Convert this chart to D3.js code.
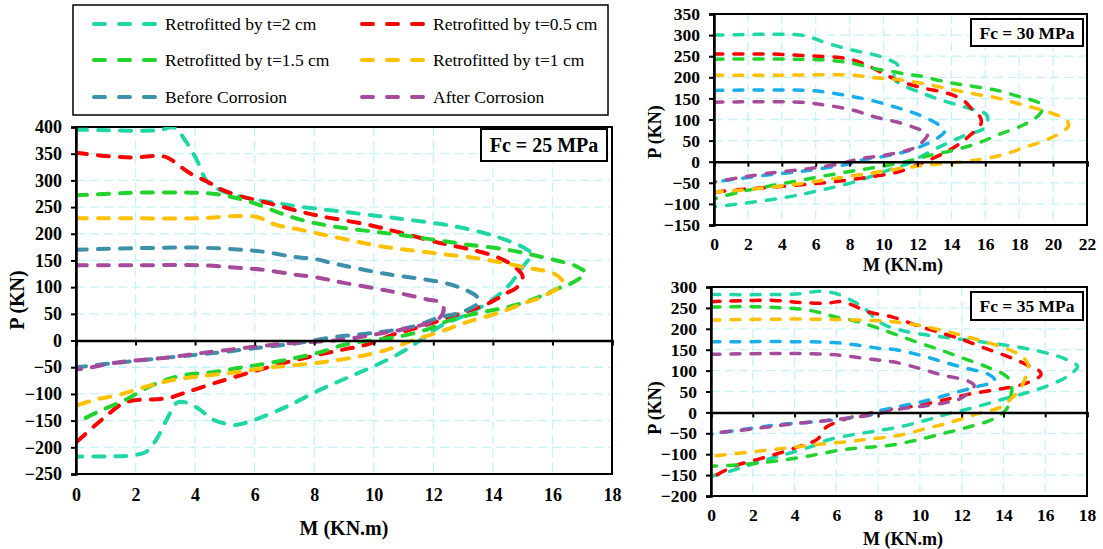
<!DOCTYPE html>
<html>
<head>
<meta charset="utf-8">
<script src="https://cdn.jsdelivr.net/npm/d3@7/dist/d3.min.js"></script>
<style>
  body { margin: 0; background: #fff; }
  svg { display: block; font-family: "Liberation Serif", "Times New Roman", serif; }
  .tick text { font-weight: bold; fill: #000; }
  .axis-title { font-weight: bold; }
</style>
</head>
<body>
<svg id="chart" width="1103" height="549"></svg>
<script>
(function() {

	// DATA  (M in KN.m, P in KN)
	var seriesNames = ['Retrofitted by t=2 cm', 'Retrofitted by t=0.5 cm', 'Retrofitted by t=1.5 cm',
		'Retrofitted by t=1 cm', 'Before Corrosion', 'After Corrosion'];

	// Fc = 25 MPa
	var fc25_t2 = [[0,395],[1,394],[2,393],[2.8,394],[3.3,399],[3.7,372],[4.05,339],[4.4,298],[4.8,283],[5.3,273],[6,264],[6.7,258],[7.5,251],[9,241],[10.2,233],[11.2,226],[12.7,214],[14.1,195],[15.1,172],[15.3,162],[15.0,138],[14.5,101],[13.7,66],[13,46],[12.2,26],[11.6,2],[10.9,-23],[10,-48],[9.1,-70],[8.2,-92],[7.1,-123],[6.3,-142],[5.7,-154],[5.3,-158],[4.6,-148],[4.15,-129],[3.7,-116],[3.4,-116],[3.05,-148],[2.7,-185],[2.37,-208],[1.9,-215],[1,-217],[0,-217]];
	var fc25_t05 = [[0,352],[1.15,345],[2,343],[2.8,346],[3.1,342],[3.5,326],[3.9,311],[4.4,298],[4.8,285],[5.3,274],[6.2,261],[6.7,254],[7.5,242],[8.2,233],[9.8,217],[10.9,202],[12.2,183],[13.3,170],[14.2,155],[14.7,139],[15,120],[14.8,99],[14.5,90],[13.9,71],[13.1,54],[12.3,39],[11.45,24],[10.65,11],[9.8,-7],[8.97,-17],[8.2,-26],[7.2,-39],[5.95,-58],[4.7,-79],[3.7,-97],[3.15,-107],[2.7,-110],[2.15,-111],[1.6,-117],[1,-142],[0.6,-161],[0,-191]];
	var fc25_t15 = [[0,272],[1.15,275],[2,277],[3.9,277],[4.6,275],[5.3,268],[5.95,258],[6.7,242],[7.5,227],[8.6,214],[10.3,202],[12,189],[13.1,180],[14.5,170],[15.6,157],[16.8,139],[17.1,127],[16.7,109],[16.25,99],[15.6,83],[14.8,67],[14.1,58],[13.3,49],[12.45,36],[11.8,21],[10.9,8],[10,1],[9,-8],[8.2,-22],[6.6,-41],[5.5,-51],[4.5,-60],[3.7,-64],[3.05,-73],[2.4,-88],[1.7,-110],[0.8,-132],[0,-154]];
	var fc25_t1 = [[0,229],[2,229],[4.15,229],[5.3,233],[6.1,231],[6.7,217],[7.5,208],[8.6,195],[10.3,176],[12,164],[13.7,152],[15.1,137],[16.1,124],[16.35,108],[15.7,83],[15.1,71],[14.2,52],[13.1,34],[12.3,18],[11.3,0],[10.4,-18],[9.3,-32],[8.2,-41],[7.2,-47],[6.4,-51],[5.3,-60],[4.15,-67],[3.25,-74],[2.37,-86],[1.5,-101],[0.7,-110],[0,-122]];
	var fc25_before = [[0,170],[2,173],[4.15,174],[5.3,171],[6.2,167],[7.3,157],[8.1,152],[8.6,145],[10.5,124],[12.1,111],[12.8,101],[13.45,83],[13.55,73],[13,54],[12.2,43],[11.3,26],[10.5,18],[9.8,13],[8.6,6],[7.75,-2],[7.3,-6],[6.2,-13],[4.7,-23],[3.05,-32],[1.5,-41],[0,-50]];
	var fc25_after = [[0,141],[2,141],[4.15,141],[5.3,137],[6.2,133],[7.3,124],[8.1,118],[9,108],[10.5,93],[11.8,77],[12.2,72],[12.35,60],[12.2,42],[11.4,26],[10.4,15],[9.8,9],[9,2],[8.2,-2],[7.2,-5],[4.7,-20],[3.05,-32],[1.4,-41],[0.25,-53],[0,-54]];

	// Fc = 30 MPa
	var fc30_t2 = [[0,300],[1.5,301],[3.5,302],[5.1,300],[5.9,292],[6.6,282],[8.2,264],[9.3,255],[10.3,242],[10.85,228],[10.7,212],[10.6,200],[10.9,186],[12.05,166],[13.4,146],[14.9,128],[16.1,110],[16,82],[14.6,59],[13.3,35],[12.15,11],[11.4,-5],[10.2,-21],[8.6,-44],[6.25,-68],[4.3,-84],[1.9,-98],[0,-107]];
	var fc30_t05 = [[0,255],[3.5,255],[5.5,251],[7.4,247],[8.2,241],[9,229],[9.8,213],[10.6,197],[11.4,185],[12.5,173],[13.7,163],[14.7,146],[15.2,125],[15.7,106],[15.75,90],[15,59],[14.5,43],[13.5,19],[12.15,-5],[10.8,-25],[9.2,-36],[7.8,-44],[5.9,-52],[3.5,-60],[1.5,-66],[0,-72]];
	var fc30_t15 = [[0,243],[4.5,243],[6.6,241],[8.2,233],[9.4,221],[10.6,213],[11.4,207],[12.15,203],[13.7,189],[15.2,179],[16.7,169],[18.1,153],[19.1,141],[19.4,132],[19.2,112],[18.3,88],[16.9,66],[15.5,43],[14.1,27],[12.75,15],[11.2,-1],[9.6,-13],[8.2,-22],[6.6,-33],[5,-45],[3.5,-56],[1.5,-72],[0,-88]];
	var fc30_t1 = [[0,205],[4,205],[8.2,205],[9.4,199],[10.8,195],[12.35,185],[13.8,173],[15.3,161],[16.8,150],[18.25,134],[19.7,118],[20.8,98],[20.9,84],[19.8,55],[18.4,35],[16.9,15],[15.3,3],[13.9,-3],[12.35,-9],[10.8,-17],[9.6,-25],[7.4,-38],[5.1,-52],[2.5,-64],[0,-72]];
	var fc30_before = [[0,169],[5.5,169],[6.6,165],[7.8,157],[9.2,146],[10.8,128],[12.15,110],[13.3,86],[13.6,72],[12.6,43],[11.2,23],[9.8,11],[8.6,3],[8.2,-3],[5.5,-21],[3.5,-30],[1.5,-40],[0,-48]];
	var fc30_after = [[0,141],[5.1,141],[6.6,134],[8.2,122],[9.5,106],[10.8,94],[12.15,76],[12.6,66],[12.05,38],[11.4,27],[10,15],[8.6,7],[7.4,-5],[5.5,-17],[3.1,-28],[1.5,-38],[0,-48]];

	// Fc = 35 MPa
	var fc35_t2 = [[0,282],[3,282],[4.3,284],[5.2,290],[6,284],[6.65,270],[7.3,251],[7.6,237],[8.25,211],[9.4,193],[11,181],[11.9,175],[13.5,165],[15.45,149],[16.9,129],[17.55,110],[17.3,95],[16.7,76],[15.45,52],[14,32],[12.6,12],[11.3,-4],[10.2,-20],[8.9,-36],[7.7,-46],[6.6,-55],[5.6,-66],[4.9,-80],[3.8,-97],[3,-108],[1.9,-125],[0.75,-143],[0,-153]];
	var fc35_t05 = [[0,265],[1.5,267],[3,268],[4.3,263],[5.5,261],[6.2,265],[6.8,256],[7.5,241],[8.7,228],[9.9,207],[11.1,189],[12.1,173],[13.2,152],[14.4,130],[15.2,112],[15.7,100],[15.8,90],[15,68],[13.85,56],[12.4,44],[11,28],[9.85,16],[8.7,8],[7.8,0],[6.7,-12],[6,-24],[5.5,-36],[5.1,-64],[4.3,-80],[3.3,-97],[2.2,-113],[1.1,-129],[0,-157]];
	var fc35_t15 = [[0,252],[2,253],[3.8,249],[4.6,245],[5.2,239],[5.9,229],[6.8,220],[7.8,205],[8.7,189],[9.8,169],[11,149],[12.1,129],[13.2,109],[14.2,84],[14.4,60],[14.3,28],[14.15,8],[13.5,-16],[12.25,-36],[11,-52],[9.7,-68],[8.4,-80],[7.3,-84],[6.2,-90],[4.6,-105],[3,-117],[1.4,-125],[0,-129]];
	var fc35_t1 = [[0,221],[3,223],[4.9,223],[6.2,222],[7.6,220],[8.7,217],[9.9,209],[11,197],[12.25,181],[13.4,165],[14.5,145],[15,129],[15.2,110],[15.1,90],[14.9,65],[14.6,44],[14.2,25],[13.85,12],[12.7,-4],[11.45,-24],[10.2,-40],[8.9,-56],[7.6,-64],[6.5,-70],[5.05,-77],[3.8,-84],[2.2,-93],[0,-105]];
	var fc35_before = [[0,169],[4.6,169],[5.9,167],[7,161],[8.1,153],[8.7,151],[10,137],[11.1,121],[12.25,105],[13.2,93],[13.6,76],[12.6,60],[11.45,44],[10.3,28],[9.2,16],[8.1,4],[7.8,-4],[6.2,-16],[4.6,-24],[3.3,-29],[2.2,-36],[1.1,-44],[0,-52]];
	var fc35_after = [[0,139],[3.8,141],[5.5,139],[6.5,135],[7.7,127],[8.7,121],[10,105],[11.1,89],[12.25,76],[12.6,64],[11.9,32],[11.3,24],[10.3,16],[9.05,8],[7.9,-4],[6.2,-16],[3.8,-28],[1.9,-40],[0,-50]];

	//VARS
	var colorsMain = ['#1fd6a6', '#ff0000', '#22d32e', '#ffc000', '#3d90aa', '#a64b9b'];
	var colorsSide = ['#1fd6a6', '#ff0000', '#22d32e', '#ffc000', '#17aeea', '#a64b9b'];
	var font = '"Liberation Serif", "Times New Roman", serif';

	var panels = [{
		label: 'Fc = 25 MPa',
		series: [fc25_t2, fc25_t05, fc25_t15, fc25_t1, fc25_before, fc25_after],
		colors: colorsMain,
		xDomain: [0, 18], xStep: 2, yDomain: [-250, 400], yStep: 50,
		box: { l: 76, r: 612, t: 127, b: 474 },
		tickSize: 18, titleSize: 20, lineWidth: 4, dash: '11,11',
		yLabelPad: 9, xLabelPad: 14,
		xTitle: { x: 344, y: 535 }, yTitle: { x: 17, y: 300 },
		tag: { x: 481, y: 129, w: 126, h: 32, size: 20 }
	}, {
		label: 'Fc = 30 MPa',
		series: [fc30_t2, fc30_t05, fc30_t15, fc30_t1, fc30_before, fc30_after],
		colors: colorsSide,
		xDomain: [0, 22], xStep: 2, yDomain: [-150, 350], yStep: 50,
		box: { l: 714, r: 1087, t: 14, b: 225 },
		tickSize: 17.5, titleSize: 18, lineWidth: 3.5, dash: '9,11',
		yLabelPad: 9, xLabelPad: 13,
		xTitle: { x: 903, y: 271 }, yTitle: { x: 655, y: 132 },
		tag: { x: 971, y: 19, w: 112, h: 27, size: 17.5 }
	}, {
		label: 'Fc = 35 MPa',
		series: [fc35_t2, fc35_t05, fc35_t15, fc35_t1, fc35_before, fc35_after],
		colors: colorsSide,
		xDomain: [0, 18], xStep: 2, yDomain: [-200, 300], yStep: 50,
		box: { l: 711, r: 1087, t: 287, b: 496 },
		tickSize: 17.5, titleSize: 18, lineWidth: 3.5, dash: '9,11',
		yLabelPad: 9, xLabelPad: 13,
		xTitle: { x: 903, y: 545 }, yTitle: { x: 655, y: 408 },
		tag: { x: 971, y: 292, w: 112, h: 28, size: 17.5 }
	}];

	var svg = d3.select('#chart');

	function range(lo, hi, step) {
		return d3.range(lo, hi + step / 2, step);
	}

	function drawPanel(p, idx) {
		var b = p.box;
		var x = d3.scaleLinear().domain(p.xDomain).range([b.l, b.r]);
		var y = d3.scaleLinear().domain(p.yDomain).range([b.b, b.t]);
		var xTicks = range(p.xDomain[0], p.xDomain[1], p.xStep);
		var yTicks = range(p.yDomain[0], p.yDomain[1], p.yStep);

		var g = svg.append('g').attr('class', 'panel panel-' + idx);

		svg.append('clipPath').attr('id', 'clip' + idx)
			.append('rect')
			.attr('x', b.l).attr('y', b.t)
			.attr('width', b.r - b.l).attr('height', b.b - b.t);

		// gridlines
		var grid = g.append('g').attr('class', 'grid')
			.attr('stroke', '#c4f3f7').attr('stroke-width', 1.3).attr('stroke-dasharray', '9,5');
		grid.selectAll('.gx').data(xTicks.slice(1)).enter().append('line')
			.attr('x1', function(d) { return x(d); }).attr('x2', function(d) { return x(d); })
			.attr('y1', b.t).attr('y2', b.b);
		grid.selectAll('.gy').data(yTicks.slice(1)).enter().append('line')
			.attr('y1', function(d) { return y(d); }).attr('y2', function(d) { return y(d); })
			.attr('x1', b.l).attr('x2', b.r);

		// frame
		g.append('rect')
			.attr('x', b.l).attr('y', b.t)
			.attr('width', b.r - b.l).attr('height', b.b - b.t)
			.attr('fill', 'none').attr('stroke', '#000').attr('stroke-width', 2);

		// curves
		var line = d3.line()
			.x(function(d) { return x(d[0]); })
			.y(function(d) { return y(d[1]); })
			.curve(d3.curveCatmullRom.alpha(0.5));

		g.append('g').attr('clip-path', 'url(#clip' + idx + ')')
			.selectAll('path').data(p.series).enter().append('path')
			.attr('d', line)
			.attr('fill', 'none')
			.attr('stroke', function(d, i) { return p.colors[i]; })
			.attr('stroke-width', p.lineWidth)
			.attr('stroke-linecap', 'round')
			.attr('stroke-linejoin', 'round')
			.attr('stroke-dasharray', p.dash);

		// y axis
		var axisY = d3.axisLeft(y).tickValues(yTicks).tickSize(5).tickPadding(p.yLabelPad)
			.tickFormat(d3.format('d'));
		var gy = g.append('g').attr('transform', 'translate(' + b.l + ',0)').call(axisY);
		gy.select('.domain').attr('stroke', '#000').attr('stroke-width', 2.5);
		gy.selectAll('.tick line').attr('stroke', '#000').attr('stroke-width', 2);
		gy.selectAll('.tick text').style('font-size', p.tickSize + 'px').style('font-family', font);

		// x axis on the zero line (ticks only)
		var axisX0 = d3.axisBottom(x).tickValues(xTicks).tickSize(5).tickFormat('');
		var gx0 = g.append('g').attr('transform', 'translate(0,' + y(0) + ')').call(axisX0);
		gx0.select('.domain').attr('stroke', '#000').attr('stroke-width', 2.5);
		gx0.selectAll('.tick line').attr('stroke', '#000').attr('stroke-width', 2);

		// x labels at the bottom
		var axisX = d3.axisBottom(x).tickValues(xTicks).tickSize(0).tickPadding(p.xLabelPad)
			.tickFormat(d3.format('d'));
		var gx = g.append('g').attr('transform', 'translate(0,' + b.b + ')').call(axisX);
		gx.select('.domain').remove();
		gx.selectAll('.tick text').style('font-size', p.tickSize + 'px').style('font-family', font);

		// titles
		g.append('text').attr('class', 'axis-title')
			.attr('x', p.xTitle.x).attr('y', p.xTitle.y)
			.attr('text-anchor', 'middle')
			.style('font-size', p.titleSize + 'px')
			.text('M (KN.m)');
		g.append('text').attr('class', 'axis-title')
			.attr('transform', 'translate(' + p.yTitle.x + ',' + p.yTitle.y + ')rotate(-90)')
			.attr('text-anchor', 'middle').attr('dy', '0.35em')
			.style('font-size', p.titleSize + 'px')
			.text('P (KN)');

		// Fc tag
		var t = p.tag;
		g.append('rect')
			.attr('x', t.x).attr('y', t.y).attr('width', t.w).attr('height', t.h)
			.attr('fill', '#fff').attr('stroke', '#000').attr('stroke-width', 2);
		g.append('text')
			.attr('x', t.x + t.w / 2).attr('y', t.y + t.h / 2)
			.attr('dy', '0.35em').attr('text-anchor', 'middle')
			.style('font-size', t.size + 'px').style('font-weight', 'bold')
			.text(p.label);
	}

	function drawLegend() {
		var lg = svg.append('g').attr('class', 'legend');
		lg.append('rect')
			.attr('x', 73).attr('y', 5).attr('width', 535).attr('height', 110)
			.attr('fill', '#fff').attr('stroke', '#000').attr('stroke-width', 1.5);

		var order = [0, 2, 4, 1, 3, 5];
		var rowsY = [24, 60, 97];
		var colsX = [92, 360];

		var item = lg.selectAll('.item').data(order).enter().append('g')
			.attr('class', 'item')
			.attr('transform', function(d, i) {
				return 'translate(' + colsX[Math.floor(i / 3)] + ',' + rowsY[i % 3] + ')';
			});
		item.append('line')
			.attr('x1', 2).attr('x2', 63).attr('y1', 0).attr('y2', 0)
			.attr('stroke', function(d) { return colorsMain[d]; })
			.attr('stroke-width', 4).attr('stroke-linecap', 'round')
			.attr('stroke-dasharray', '11,14');
		item.append('text')
			.attr('x', 73).attr('y', 0).attr('dy', '0.35em')
			.style('font-size', '17.5px')
			.text(function(d) { return seriesNames[d]; });
	}

	panels.forEach(drawPanel);
	drawLegend();
})();
</script>
</body>
</html>
